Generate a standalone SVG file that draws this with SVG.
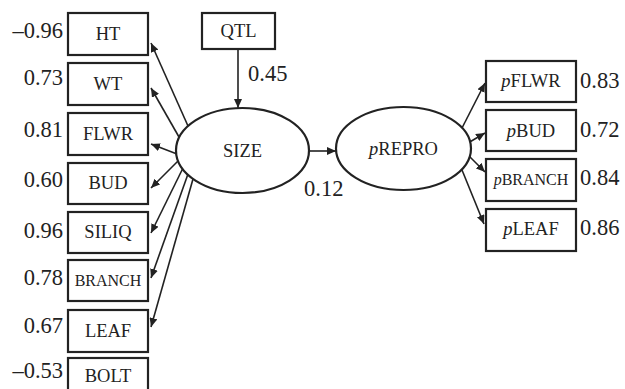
<svg xmlns="http://www.w3.org/2000/svg" width="625" height="389" viewBox="0 0 625 389">
<defs>
<style>
.box{fill:#fff;stroke:#222;stroke-width:2.2}
.ell{fill:#fff;stroke:#222;stroke-width:2.2}
.lbl{font-family:"Liberation Serif",serif;font-size:18.5px;fill:#222;text-anchor:middle}
.sm{font-size:16px}
.num{font-family:"Liberation Serif",serif;font-size:22.5px;fill:#222}
.r{text-anchor:end}
.con{stroke:#222;stroke-width:1.6;fill:none;marker-end:url(#ah)}
</style>
<marker id="ah" markerUnits="userSpaceOnUse" markerWidth="10" markerHeight="8" refX="9" refY="4" orient="auto">
<path d="M0,0 L9,4 L0,8 z" fill="#222"/>
</marker>
</defs>
<rect width="625" height="389" fill="#fff"/>
<g id="connectors">
<line class="con" x1="238" y1="49" x2="238" y2="108"/>
<line class="con" x1="309" y1="151" x2="336" y2="151"/>
<line class="con" x1="188" y1="126" x2="151" y2="43"/>
<line class="con" x1="179" y1="137" x2="151" y2="88"/>
<line class="con" x1="177" y1="154" x2="151" y2="144"/>
<line class="con" x1="179" y1="160" x2="151" y2="188"/>
<line class="con" x1="183" y1="168" x2="151" y2="233"/>
<line class="con" x1="188" y1="174" x2="151" y2="278"/>
<line class="con" x1="193" y1="179" x2="151" y2="327"/>
<line class="con" x1="462" y1="128" x2="485" y2="83"/>
<line class="con" x1="468" y1="143" x2="485" y2="133"/>
<line class="con" x1="468" y1="155" x2="485" y2="172"/>
<line class="con" x1="462" y1="170" x2="484" y2="224"/>
</g>
<g id="QTL"><rect class="box" x="202" y="13" width="73" height="36"/><text class="lbl" x="238.5" y="37">QTL</text></g>
<text class="num" x="248" y="81">0.45</text>
<g id="SIZE"><ellipse class="ell" cx="242.5" cy="150.5" rx="66.5" ry="42.5"/><text class="lbl" x="242.5" y="157">SIZE</text></g>
<text class="num" x="304" y="196">0.12</text>
<g id="pREPRO"><ellipse class="ell" cx="403.5" cy="148.5" rx="67.5" ry="41.5"/><text class="lbl" x="403.5" y="155"><tspan font-style="italic">p</tspan>REPRO</text></g>
<g id="HT"><rect class="box" x="68" y="13" width="80" height="42"/><text class="lbl" x="108" y="40">HT</text><text class="num r" x="63" y="38">–0.96</text></g>
<g id="WT"><rect class="box" x="68" y="63" width="80" height="42"/><text class="lbl" x="108" y="90">WT</text><text class="num r" x="63" y="85">0.73</text></g>
<g id="FLWR"><rect class="box" x="68" y="113" width="80" height="42"/><text class="lbl" x="108" y="140">FLWR</text><text class="num r" x="63" y="137">0.81</text></g>
<g id="BUD"><rect class="box" x="68" y="163" width="80" height="41"/><text class="lbl" x="108" y="189">BUD</text><text class="num r" x="63" y="187">0.60</text></g>
<g id="SILIQ"><rect class="box" x="68" y="212" width="80" height="41"/><text class="lbl" x="108" y="238">SILIQ</text><text class="num r" x="63" y="238">0.96</text></g>
<g id="BRANCH"><rect class="box" x="68" y="260" width="80" height="41"/><text class="lbl sm" x="108" y="286">BRANCH</text><text class="num r" x="63" y="285">0.78</text></g>
<g id="LEAF"><rect class="box" x="68" y="310" width="80" height="42"/><text class="lbl" x="108" y="337">LEAF</text><text class="num r" x="63" y="333">0.67</text></g>
<g id="BOLT"><rect class="box" x="68" y="358" width="80" height="42"/><text class="lbl" x="108" y="382">BOLT</text><text class="num r" x="63" y="378">–0.53</text></g>
<g id="pFLWR"><rect class="box" x="486" y="61" width="90" height="41"/><text class="lbl" x="531" y="87"><tspan font-style="italic">p</tspan>FLWR</text><text class="num" x="580" y="88">0.83</text></g>
<g id="pBUD"><rect class="box" x="486" y="110" width="90" height="41"/><text class="lbl" x="531" y="137"><tspan font-style="italic">p</tspan>BUD</text><text class="num" x="580" y="137">0.72</text></g>
<g id="pBRANCH"><rect class="box" x="486" y="159" width="90" height="42"/><text class="lbl sm" x="531" y="185"><tspan font-style="italic">p</tspan>BRANCH</text><text class="num" x="580" y="185">0.84</text></g>
<g id="pLEAF"><rect class="box" x="486" y="209" width="90" height="42"/><text class="lbl" x="531" y="235"><tspan font-style="italic">p</tspan>LEAF</text><text class="num" x="580" y="235">0.86</text></g>
</svg>
